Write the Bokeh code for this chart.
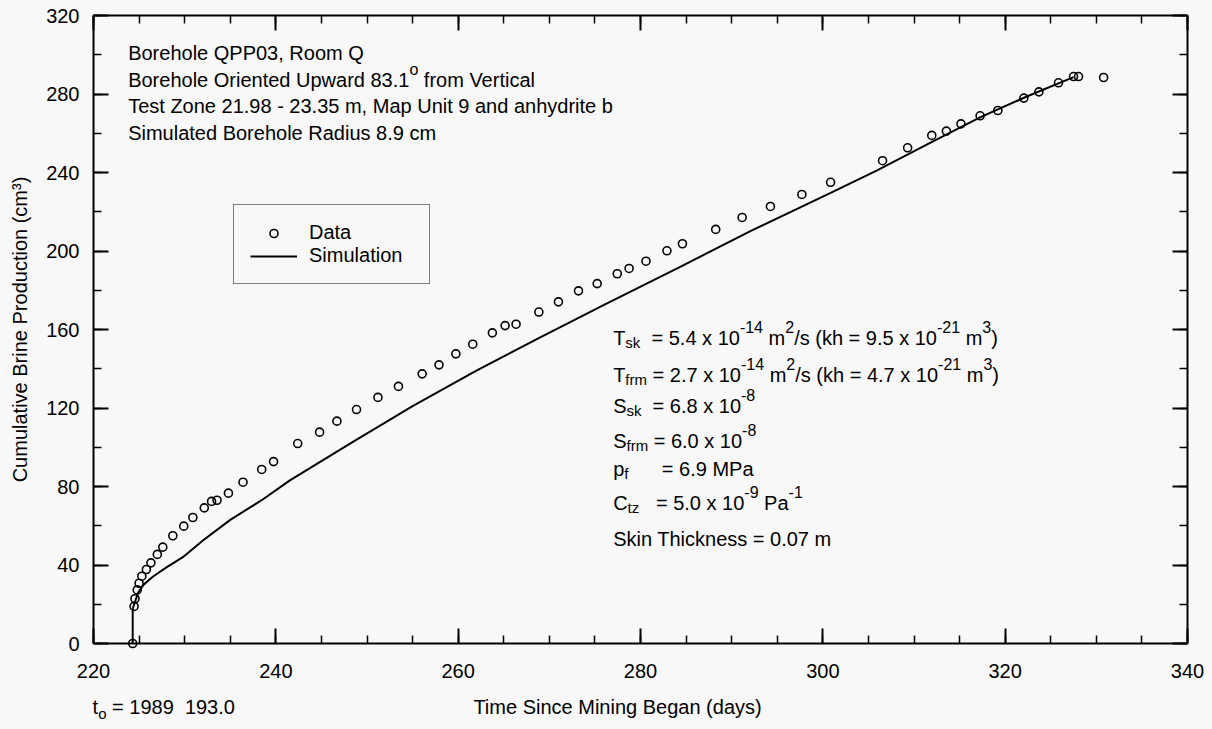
from bokeh.plotting import figure
from bokeh.models import (Range1d, SingleIntervalTicker, LinearAxis,
                          ColumnDataSource, LabelSet)
from bokeh.core.properties import value
from bokeh.embed import file_html
from bokeh.resources import INLINE

# ---------------- data ----------------
data_days = [224.3, 224.45, 224.55, 224.8, 225.0, 225.3, 225.8, 226.3, 227.0, 227.6,
             228.7, 229.9, 230.9, 232.15, 232.95, 233.55, 234.8, 236.4, 238.45, 239.75,
             242.4, 244.8, 246.7, 248.85, 251.2, 253.45, 256.05, 257.9, 259.75, 261.6,
             263.75, 265.15, 266.35, 268.85, 271.0, 273.2, 275.25, 277.45, 278.75, 280.6,
             282.9, 284.6, 288.25, 291.15, 294.25, 297.7, 300.85, 306.55, 309.3, 311.95,
             313.55, 315.15, 317.25, 319.2, 322.05, 323.7, 325.85, 327.5, 328.05, 330.8]
data_volume = [0.0, 18.9, 22.8, 27.3, 30.7, 34.3, 37.7, 41.1, 45.4, 49.1,
               54.9, 59.8, 64.2, 69.1, 72.4, 73.0, 76.6, 82.2, 88.7, 92.7,
               101.9, 107.7, 113.3, 119.2, 125.4, 131.0, 137.4, 142.0, 147.6, 152.5,
               158.3, 162.0, 162.7, 168.9, 174.1, 179.7, 183.4, 188.4, 191.1, 194.8,
               200.1, 203.7, 211.0, 217.1, 222.7, 228.8, 235.0, 246.0, 252.6, 258.9,
               261.1, 264.8, 268.9, 271.6, 277.9, 281.1, 285.7, 288.9, 288.9, 288.4]

sim_days = [224.3, 224.3, 224.9, 225.5, 226.5, 228.0, 229.8, 232.0, 235.0, 238.6,
            241.5, 248.0, 255.0, 262.0, 269.0, 276.0, 284.3, 292.0, 300.8, 305.9,
            311.5, 317.3, 322.5, 327.5]
sim_volume = [0.0, 17.7, 26.0, 30.0, 34.0, 38.8, 44.0, 52.5, 63.0, 73.5,
              83.0, 101.5, 121.0, 139.0, 156.0, 172.5, 191.8, 210.0, 229.5, 241.0,
              254.5, 268.2, 279.0, 288.6]

x_start, x_end, x_step, x_minor = 220, 340, 20, 4
y_start, y_end, y_step, y_minor = 0, 320, 40, 2

FONT = "Liberation Sans"
BG = "#f8f8f8"
FS = 20

# page layout: axes box from x = 93 px to 1187 px and from y = 15 px to 643 px
PAGE_W, PAGE_H = 1212, 729
BOX_L, BOX_R, BOX_T, BOX_B = 93, 1187, 15, 643
sx = (BOX_R - BOX_L) / (x_end - x_start)
sy = (BOX_B - BOX_T) / (y_end - y_start)
x_lo, x_hi = x_start - BOX_L / sx, x_end + (PAGE_W - BOX_R) / sx
y_lo, y_hi = y_start - (PAGE_H - BOX_B) / sy, y_end + BOX_T / sy

# Arial / Liberation Sans advance widths (per 1000 em)
W = {' ': 278, '(': 333, ')': 333, ',': 278, '-': 333, '.': 278, '/': 278, '=': 584,
     'A': 667, 'B': 667, 'C': 722, 'D': 722, 'E': 667, 'F': 611, 'G': 778, 'H': 722,
     'I': 278, 'J': 500, 'K': 667, 'L': 556, 'M': 833, 'N': 722, 'O': 778, 'P': 667,
     'Q': 778, 'R': 722, 'S': 667, 'T': 611, 'U': 722, 'V': 667, 'W': 944, 'X': 667,
     'Y': 667, 'Z': 611, 'a': 556, 'b': 556, 'c': 500, 'd': 556, 'e': 556, 'f': 278,
     'g': 556, 'h': 556, 'i': 222, 'j': 222, 'k': 500, 'l': 222, 'm': 833, 'n': 556,
     'o': 556, 'p': 556, 'q': 556, 'r': 333, 's': 500, 't': 278, 'u': 556, 'v': 500,
     'w': 722, 'x': 500, 'y': 500, 'z': 500}

SIZES = {"n": FS, "sub": 15, "sup": 16}


def tw(s, size):
    return sum(W.get(c, 556) for c in s) * size / 1000.0


def compose(rows, x, y, parts, sub_drop=3, sup_rise=12):
    off = 0.0
    for txt, kind in parts:
        size = SIZES[kind]
        dy = {"n": 0, "sub": -sub_drop, "sup": sup_rise}[kind]
        lead = len(txt) - len(txt.lstrip(" "))
        off += tw(" " * lead, size)
        core = txt.strip(" ")
        if core:
            r = rows[kind]
            r["x"].append(x)
            r["y"].append(y)
            r["text"].append(core)
            r["dx"].append(off)
            r["dy"].append(dy)
        off += tw(txt.lstrip(" "), size)


rows = {k: {"x": [], "y": [], "text": [], "dx": [], "dy": []} for k in SIZES}

# the frame covers the whole page; the four axes are drawn at fixed locations
p = figure(width=PAGE_W, height=PAGE_H, output_backend="svg", toolbar_location=None,
           x_range=Range1d(x_lo, x_hi), y_range=Range1d(y_lo, y_hi),
           min_border_left=0, min_border_right=0, min_border_top=0,
           min_border_bottom=0, background_fill_color=BG, border_fill_color=BG,
           outline_line_color=None)
p.grid.visible = False

bottom = p.below[0]
left = p.left[0]
bottom.ticker = SingleIntervalTicker(interval=x_step, num_minor_ticks=x_minor)
left.ticker = SingleIntervalTicker(interval=y_step, num_minor_ticks=y_minor)
bottom.fixed_location = y_start
bottom.bounds = (x_start, x_end)
left.fixed_location = x_start
left.bounds = (y_start, y_end)
top = LinearAxis(ticker=SingleIntervalTicker(interval=x_step, num_minor_ticks=x_minor),
                 fixed_location=y_end, bounds=(x_start, x_end))
right = LinearAxis(ticker=SingleIntervalTicker(interval=y_step, num_minor_ticks=y_minor),
                   fixed_location=x_end, bounds=(y_start, y_end))
p.add_layout(top, "above")
p.add_layout(right, "right")

for ax in [bottom, left, top, right]:
    ax.major_tick_in = 15
    ax.major_tick_out = 0
    ax.minor_tick_in = 8
    ax.minor_tick_out = 0
    ax.axis_line_width = 2
    ax.axis_line_color = "black"
    ax.major_tick_line_width = 2
    ax.major_tick_line_color = "black"
    ax.minor_tick_line_width = 1.5
    ax.minor_tick_line_color = "black"
    ax.major_label_text_font = FONT
    ax.major_label_text_font_size = f"{FS}px"
    ax.major_label_text_color = "black"

top.major_label_overrides = {v: "" for v in range(x_start, x_end + 1, x_step)}
right.major_label_overrides = {v: "" for v in range(y_start, y_end + 1, y_step)}
for ax in [top, right]:
    ax.major_label_standoff = 0
    ax.major_label_text_font_size = "1px"

bottom.major_label_standoff = 20
left.major_label_standoff = 14
left.axis_label = "Cumulative Brine Production (cm³)"
left.axis_label_text_font = FONT
left.axis_label_text_font_size = f"{FS}px"
left.axis_label_text_font_style = "normal"
left.axis_label_text_color = "black"
left.axis_label_standoff = 12

src_data = ColumnDataSource(dict(x=data_days, y=data_volume))
src_sim = ColumnDataSource(dict(x=sim_days, y=sim_volume))

p.scatter("x", "y", source=src_data, marker="circle", size=8, fill_color=None,
          line_color="black", line_width=1.6, legend_label="Data")
p.line("x", "y", source=src_sim, line_color="black", line_width=2,
       legend_label="Simulation")

lg = p.legend[0]
lg.location = (233, PAGE_H - 284)
lg.border_line_color = "black"
lg.border_line_width = 1.5
lg.background_fill_color = BG
lg.background_fill_alpha = 1
lg.label_text_font = FONT
lg.label_text_font_size = f"{FS}px"
lg.label_text_color = "black"
lg.glyph_width = 47
lg.glyph_height = 20
lg.label_height = 20
lg.label_width = 104
lg.label_standoff = 12
lg.padding = 16
lg.spacing = 0
lg.margin = 0

# ---------------- annotations ----------------
compose(rows, 223.8, 297.1, [("Borehole QPP03, Room Q", "n")])
compose(rows, 223.8, 283.6, [("Borehole Oriented Upward 83.1", "n"), ("o", "sup"),
                             (" from Vertical", "n")])
compose(rows, 223.8, 270.1, [("Test Zone 21.98 - 23.35 m, Map Unit 9 and anhydrite b", "n")])
compose(rows, 223.8, 256.6, [("Simulated Borehole Radius 8.9 cm", "n")])

AX = 277.0
compose(rows, AX, 151.85, [("T", "n"), ("sk", "sub"), ("  = 5.4 x 10", "n"), ("-14", "sup"),
                           (" m", "n"), ("2", "sup"), ("/s (kh = 9.5 x 10", "n"),
                           ("-21", "sup"), (" m", "n"), ("3", "sup"), (")", "n")])
compose(rows, AX, 133.1, [("T", "n"), ("frm", "sub"), (" = 2.7 x 10", "n"), ("-14", "sup"),
                          (" m", "n"), ("2", "sup"), ("/s (kh = 4.7 x 10", "n"),
                          ("-21", "sup"), (" m", "n"), ("3", "sup"), (")", "n")])
compose(rows, AX, 117.2, [("S", "n"), ("sk", "sub"), ("  = 6.8 x 10", "n"), ("-8", "sup")])
compose(rows, AX, 99.4, [("S", "n"), ("frm", "sub"), (" = 6.0 x 10", "n"), ("-8", "sup")])
compose(rows, AX, 85.1, [("p", "n"), ("f", "sub"), ("      = 6.9 MPa", "n")])
compose(rows, AX, 67.8, [("C", "n"), ("tz", "sub"), ("   = 5.0 x 10", "n"), ("-9", "sup"),
                         (" Pa", "n"), ("-1", "sup")])
compose(rows, AX, 49.9, [("Skin Thickness = 0.07 m", "n")])

compose(rows, 219.9, -35.7, [("t", "n"), ("o", "sub"), (" = 1989", "n"), ("  193.0", "n")],
        sub_drop=5)
compose(rows, 261.67, -35.7, [("Time Since Mining Began (days)", "n")])

for kind, size in SIZES.items():
    labels = LabelSet(x="x", y="y", text="text", x_offset="dx", y_offset="dy",
                      source=ColumnDataSource(rows[kind]),
                      text_font=value(FONT), text_font_size=value(f"{size}px"),
                      text_color="black", text_align="left",
                      text_baseline="alphabetic")
    p.add_layout(labels)

open("out.html", "w").write(file_html(p, INLINE))
